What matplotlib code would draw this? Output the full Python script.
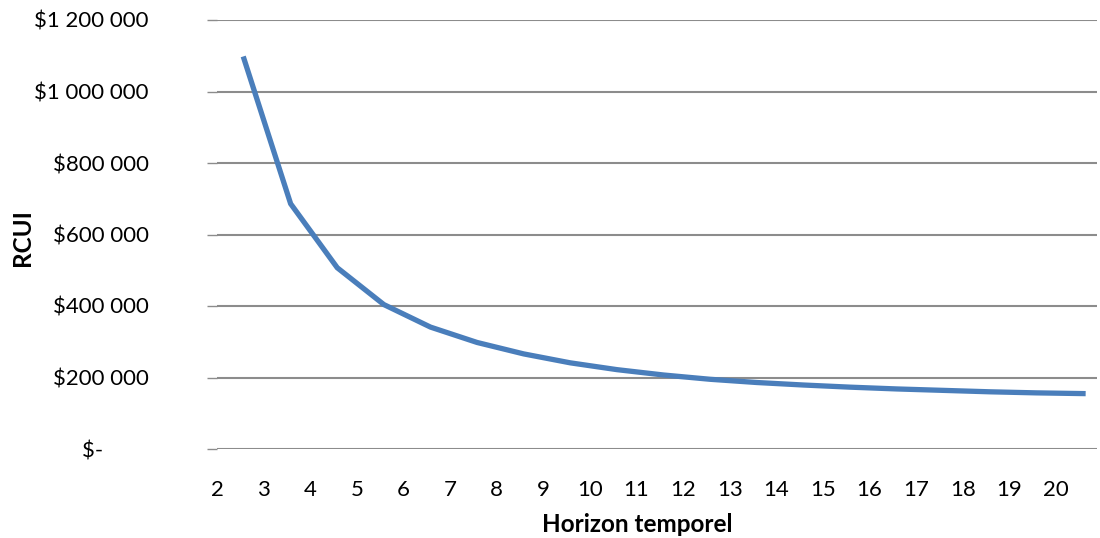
import matplotlib
matplotlib.use("Agg")
import matplotlib.pyplot as plt
from matplotlib.ticker import FixedLocator

plt.rcParams["font.family"] = ["Lato", "DejaVu Sans"]

# horizon temporel (categories) and RCUI values
horizons = list(range(2, 21))
rcui = [1091000, 686000, 507000, 404000, 341000, 298000, 266000, 241000,
        222000, 207000, 195000, 186000, 179000, 173000, 168000, 164000,
        160000, 157000, 155000]
y_ticks = [0, 200000, 400000, 600000, 800000, 1000000, 1200000]
y_labels = ["$-        ", "$200 000", "$400 000", "$600 000", "$800 000",
            "$1 000 000", "$1 200 000"]

W, H = 1100, 538
fig = plt.figure(figsize=(W / 100, H / 100), dpi=100)
ax = fig.add_axes([217 / W, 1 - 449 / H, (1097 - 217) / W, (449 - 20) / H])

positions = list(range(len(horizons)))
ax.plot(positions, rcui, color="#4A7EBB", linewidth=3.8, solid_joinstyle="miter", zorder=3)

ax.set_ylim(0, 1200000)
ax.set_xlim(-0.535, 18.3)
ax.yaxis.set_major_locator(FixedLocator(y_ticks))
ax.set_yticklabels(y_labels)
ax.set_xticks([p - 0.58 for p in positions])
ax.set_xticklabels([str(h) for h in horizons])

ax.grid(axis="y", color="#8C8C8C", linewidth=1.5)
ax.set_axisbelow(True)
for side in ["top", "right", "left", "bottom"]:
    ax.spines[side].set_visible(False)

ax.tick_params(axis="y", length=7, width=1, color="#8C8C8C", pad=42, labelsize=16)
ax.tick_params(axis="x", length=0, pad=22, labelsize=16)

fig.text(637 / W, 1 - 524 / H, "Horizon temporel", ha="center", va="center",
         fontsize=17.5, fontweight="bold")
fig.text(22 / W, 1 - 238 / H, "RCUI", ha="center", va="center", rotation=90,
         fontsize=17.5, fontweight="bold")

fig.savefig("out.png", dpi=100)
